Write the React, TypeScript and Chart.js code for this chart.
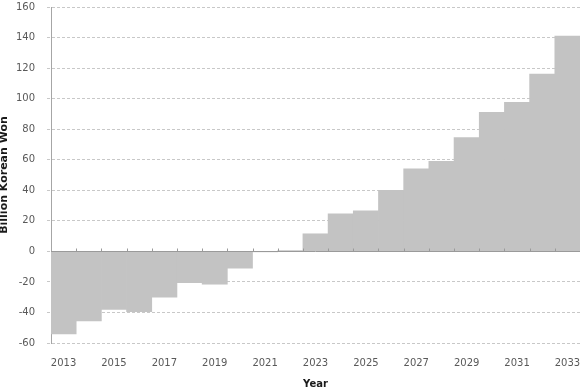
import React, { useEffect, useRef } from "react";
import { Chart, registerables } from "chart.js";

Chart.register(...registerables);

const years: string[] = [
  "2013", "2014", "2015", "2016", "2017", "2018", "2019", "2020", "2021", "2022", "2023",
  "2024", "2025", "2026", "2027", "2028", "2029", "2030", "2031", "2032", "2033",
];

const values: number[] = [
  -54, -45.5, -38, -39.5, -30, -20.5, -21.5, -11, -0.3, 0.5, 11.5,
  24.5, 26.5, 40, 54, 59, 74.5, 91, 97.5, 116, 141,
];

const yTicks = { min: -60, max: 160, step: 20 };

const FONT = "'DejaVu Sans', Verdana, sans-serif";

const zeroLinePlugin = {
  id: "zeroLine",
  afterDatasetsDraw(chart: any) {
    const { ctx, chartArea, scales } = chart;
    const x = scales.x;
    const y = scales.y;
    const y0 = Math.round(y.getPixelForValue(0)) + 0.5;
    const step = x.getPixelForValue(1) - x.getPixelForValue(0);
    ctx.save();
    ctx.strokeStyle = "#9a9a9a";
    ctx.lineWidth = 1;
    ctx.beginPath();
    ctx.moveTo(chartArea.left, y0);
    ctx.lineTo(chartArea.right, y0);
    for (let i = 1; i < years.length; i++) {
      const px = Math.round(x.getPixelForValue(i) - step / 2) + 0.5;
      ctx.moveTo(px, y0);
      ctx.lineTo(px, y0 - 3);
    }
    ctx.stroke();
    ctx.restore();
  },
};

export default function App() {
  const ref = useRef<HTMLCanvasElement | null>(null);

  useEffect(() => {
    if (!ref.current) return;
    const chart = new Chart(ref.current, {
      type: "bar",
      data: {
        labels: years,
        datasets: [
          {
            data: values,
            backgroundColor: "#c3c3c3",
            borderWidth: 0,
            barPercentage: 1,
            categoryPercentage: 1,
          },
        ],
      },
      options: {
        animation: false,
        responsive: false,
        layout: { padding: { top: 7, right: 4, left: 0, bottom: 0 } },
        plugins: {
          legend: { display: false },
          tooltip: { enabled: false },
        },
        scales: {
          x: {
            grid: { display: false, drawOnChartArea: false, drawTicks: false },
            border: { display: false },
            ticks: {
              autoSkip: false,
              maxRotation: 0,
              padding: 14,
              color: "#595959",
              font: { family: FONT, size: 10 },
              callback: (_v: any, i: number) => (i % 2 === 0 ? years[i] : ""),
            },
            title: {
              display: true,
              text: "Year",
              color: "#1a1a1a",
              font: { family: FONT, size: 10, weight: "bold" },
              padding: { top: 0, bottom: 1 },
            },
            afterFit: (scale: any) => {
              scale.height = 48;
              scale.paddingLeft = 0;
              scale.paddingRight = 0;
            },
          },
          y: {
            min: yTicks.min,
            max: yTicks.max,
            ticks: {
              stepSize: yTicks.step,
              padding: 12,
              color: "#595959",
              font: { family: FONT, size: 10 },
            },
            grid: {
              color: (ctx: any) => (ctx.tick && ctx.tick.value === 0 ? "rgba(0,0,0,0)" : "#c8c8c8"),
              drawTicks: true,
              tickLength: 4,
              tickColor: "#c8c8c8",
              tickBorderDash: [3, 2],
            },
            border: { display: true, color: "#a6a6a6", width: 1, dash: [3, 2] },
            title: {
              display: true,
              text: "Billion Korean Won",
              color: "#1a1a1a",
              font: { family: FONT, size: 11, weight: "bold" },
              padding: { top: -2, bottom: 0 },
            },
            afterFit: (scale: any) => {
              scale.width = 51;
              scale.paddingTop = 6;
              scale.paddingBottom = 6;
            },
          },
        },
      },
      plugins: [zeroLinePlugin],
    } as any);
    return () => chart.destroy();
  }, []);

  return (
    <div style={{ position: "absolute", left: 0, top: 0, width: 584, height: 391, background: "#fff" }}>
      <canvas ref={ref} width={584} height={391} />
    </div>
  );
}
